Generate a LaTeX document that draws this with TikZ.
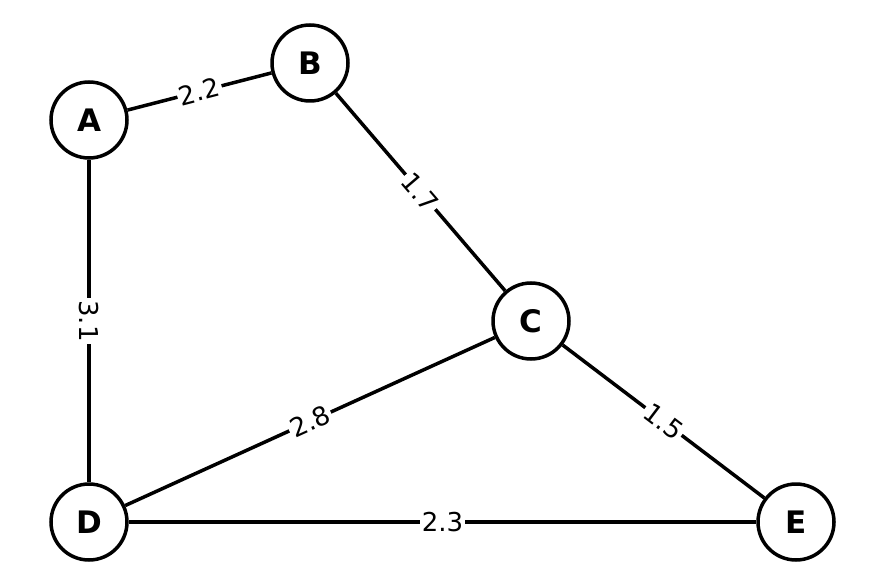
\documentclass[tikz,border=0pt]{standalone}
\usepackage{fontspec}
\setmainfont{DejaVu Sans}
\begin{document}
\begin{tikzpicture}[x=1pt,y=-1pt,
  vert/.style={circle,draw,line width=3.5pt,minimum size=76pt,inner sep=0pt,font=\bfseries\fontsize{31}{36}\selectfont,fill=white},
  edge/.style={line width=3.5pt},
  wlab/.style={fill=white,inner sep=2pt,font=\fontsize{26}{30}\selectfont,sloped}]
\useasboundingbox (0,0) rectangle (885,585);
\node[vert] (A) at (89,120) {A};
\node[vert] (B) at (310,63) {B};
\node[vert] (C) at (531,321) {C};
\node[vert] (D) at (89,522) {D};
\node[vert] (E) at (796,522) {E};
\draw[edge] (A) -- node[wlab] {2.2} (B);
\draw[edge] (B) -- node[wlab] {1.7} (C);
\draw[edge] (A) -- node[wlab] {3.1} (D);
\draw[edge] (D) -- node[wlab] {2.8} (C);
\draw[edge] (C) -- node[wlab] {1.5} (E);
\draw[edge] (D) -- node[wlab] {2.3} (E);
\end{tikzpicture}
\end{document}
